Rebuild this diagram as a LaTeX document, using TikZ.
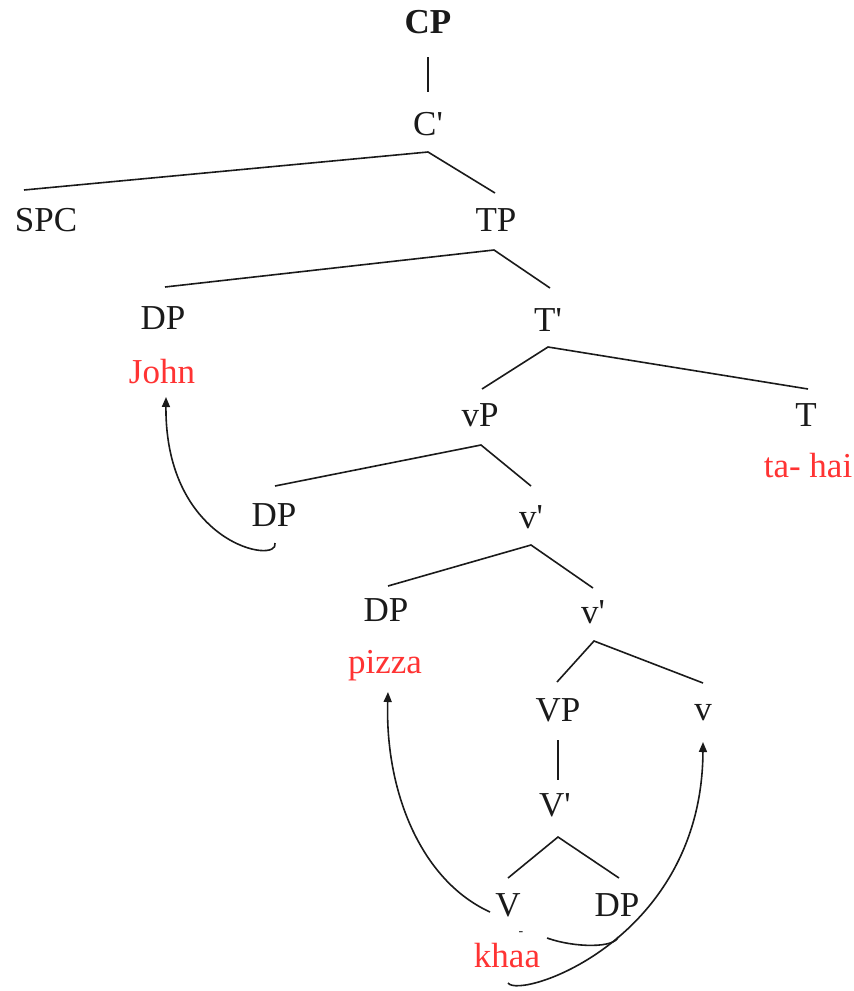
\documentclass[tikz,border=0pt]{standalone}
\usepackage{fontspec}
\newfontfamily\tfont{Liberation Serif}
\usetikzlibrary{arrows.meta}
\definecolor{glossred}{HTML}{FF3333}
\definecolor{ink}{HTML}{1A1A1A}
\begin{document}
\begin{tikzpicture}[x=1pt,y=-1pt,
  lab/.style={font=\tfont\fontsize{35}{42}\selectfont, anchor=base, inner sep=0pt, text=ink},
  gloss/.style={lab, text=glossred},
  branch/.style={draw=ink, line width=1.6pt},
  mv/.style={draw=ink, line width=1.6pt, -{Triangle[length=10pt,width=8pt]}}]
\useasboundingbox (0,0) rectangle (854,991);
% nodes
\node[lab, font=\tfont\bfseries\fontsize{35}{42}\selectfont] (CP) at (428,33) {CP};
\node[lab] (Cb) at (428,135) {C'};
\node[lab] (SPC) at (46,231) {SPC};
\node[lab] (TP) at (496,231) {TP};
\node[lab] (DP1) at (163,329) {DP};
\node[gloss] (John) at (162,383) {John};
\node[lab] (Tb) at (548,331) {T'};
\node[lab] (vP) at (480,426) {vP};
\node[lab] (T) at (806,426) {T};
\node[gloss] (tahai) at (808,477) {ta- hai};
\node[lab] (DP2) at (274,526) {DP};
\node[lab] (vb1) at (531,528) {v'};
\node[lab] (DP3) at (386,621) {DP};
\node[gloss] (pizza) at (385,673) {pizza};
\node[lab] (vb2) at (593,623) {v'};
\node[lab] (VP) at (558,721) {VP};
\node[lab] (v) at (703,720) {v};
\node[lab] (Vb) at (555,816) {V'};
\node[lab] (V) at (508,916) {V};
\node[lab] (DP4) at (617,916) {DP};
\node[lab, font=\tfont\fontsize{14}{16}\selectfont] (dash) at (521,935) {-};
\node[gloss] (khaa) at (507,967) {khaa};
% branch points
\coordinate (aC) at (428,152);
\coordinate (aTP) at (494,250);
\coordinate (aT) at (548,347);
\coordinate (avP) at (481,445);
\coordinate (av1) at (531,545);
\coordinate (av2) at (594,641);
\coordinate (aV) at (558,837);
% tree lines
\draw[branch] ([shift={(0,24)}]CP.base) -- ([shift={(0,-43)}]Cb.base);
\draw[branch] ([shift={(-22,-41)}]SPC.base) -- (aC) -- ([shift={(-1,-38)}]TP.base);
\draw[branch] ([shift={(2,-42)}]DP1.base) -- (aTP) -- ([shift={(2,-43)}]Tb.base);
\draw[branch] ([shift={(2,-37)}]vP.base) -- (aT) -- ([shift={(2,-37)}]T.base);
\draw[branch] ([shift={(1,-40)}]DP2.base) -- (avP) -- ([shift={(0,-42)}]vb1.base);
\draw[branch] ([shift={(2,-35)}]DP3.base) -- (av1) -- ([shift={(0,-35)}]vb2.base);
\draw[branch] ([shift={(-1,-39)}]VP.base) -- (av2) -- ([shift={(0,-37)}]v.base);
\draw[branch] ([shift={(0,19)}]VP.base) -- ([shift={(3,-36)}]Vb.base);
\draw[branch] ([shift={(0,-38)}]V.base) -- (aV) -- ([shift={(2,-38)}]DP4.base);
% movement arrows
\draw[mv] ([shift={(1,17)}]DP2.base) .. controls (280,565) and (165,545) .. ([shift={(4,14)}]John.base);
\draw[mv] ([shift={(-18,-4)}]V.base) .. controls (420,880) and (385,790) .. ([shift={(3,19)}]pizza.base);
\draw[branch] ([shift={(40,-29)}]khaa.base) .. controls (575,948) and (615,948) .. ([shift={(1,21)}]DP4.base);
\draw[mv] ([shift={(1,16)}]khaa.base) .. controls (520,1000) and (702,940) .. ([shift={(0,22)}]v.base);
\end{tikzpicture}
\end{document}
